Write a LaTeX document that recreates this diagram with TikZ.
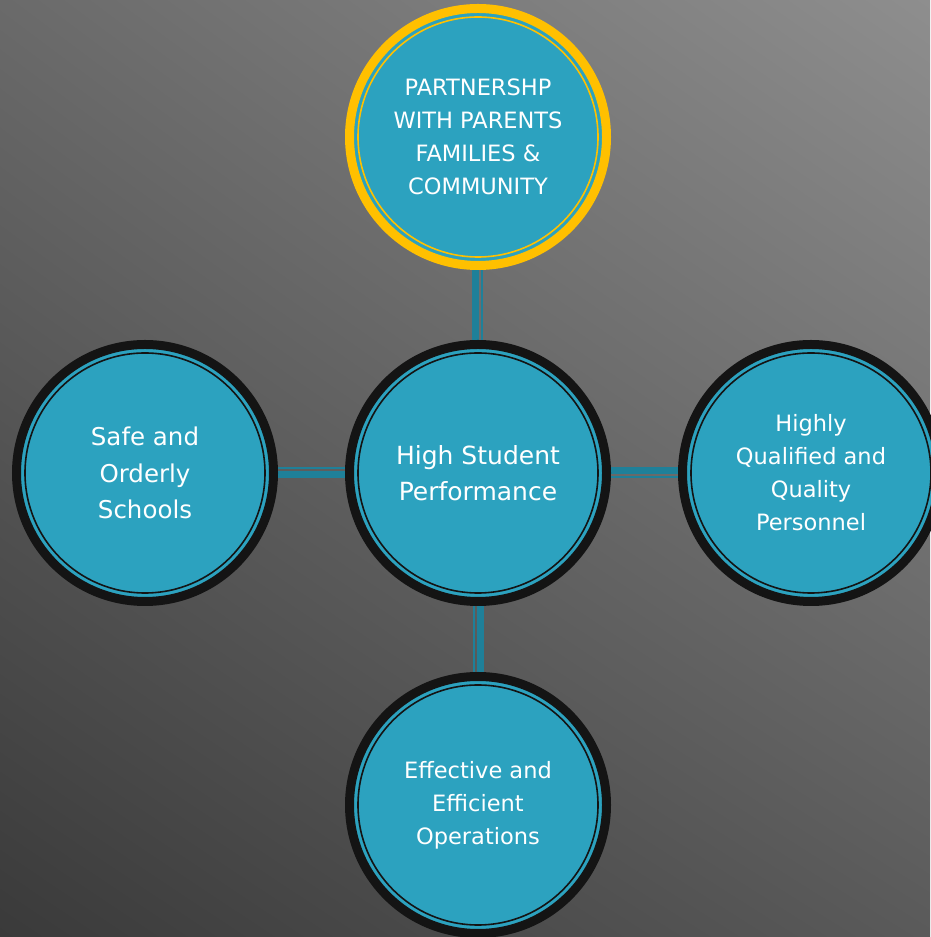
\documentclass[tikz,border=0pt]{standalone}
\usepackage{fontspec}
\setmainfont{DejaVu Sans}
\usepackage{tikz}
\usetikzlibrary{calc}
\usetikzlibrary{positioning}
\usetikzlibrary{shadings}
\usepackage{xcolor}
\definecolor{tealFill}{RGB}{44,162,191}
\definecolor{tealBar}{RGB}{31,128,153}
\definecolor{ringBlack}{RGB}{20,20,20}
\definecolor{ringGold}{RGB}{255,192,0}
\definecolor{bgUL}{RGB}{106,106,106}
\definecolor{bgUR}{RGB}{142,142,142}
\definecolor{bgLL}{RGB}{58,58,58}
\definecolor{bgLR}{RGB}{90,90,90}
\pgfdeclarelayer{background}
\pgfsetlayers{background,main}
\tikzset{
  goal/.style={
    circle, draw=#1, line width=9pt, fill=tealFill,
    minimum size=257pt, inner sep=0pt,
    text=white, align=center,
    path picture={\draw[#1, line width=1.6pt] (path picture bounding box.center) circle (120pt);}
  },
  goal/.default=ringBlack,
  bigtext/.style={font=\fontsize{25}{36}\selectfont},
  midtext/.style={font=\fontsize{24.5}{36.5}\selectfont},
  smalltext/.style={font=\fontsize{22.5}{33}\selectfont},
  thickbar/.style={tealBar, line width=7pt, shorten <=-4pt, shorten >=-4pt},
  thinbar/.style={tealBar, line width=2pt, shorten <=-4pt, shorten >=-4pt},
}
\begin{document}
\begin{tikzpicture}[x=1pt,y=1pt]
\useasboundingbox (0,0) rectangle (930,937);

%%%%%%%%%%%%%%%%%%%%%%%%%%%%%%%%%%%%%%%%%%%%%%%%%%%%%%%%%%%%%% Setup
\coordinate (C) at (478, 464);

%%%%%%%%%%%%%%%%%%%%%%%%%%%%%%%%%%%%%%%%%%%%%%%%%%%%%%%%%%%%%% Circles
\node[goal, bigtext] (hub) at (C) {High Student\\Performance};
\node[goal=ringGold, smalltext] (top) at ($(C)+(0,336)$) {PARTNERSHP\\WITH PARENTS\\FAMILIES \&\\COMMUNITY};
\node[goal, midtext] (left) at ($(C)+(-333,0)$) {Safe and\\Orderly\\Schools};
\node[goal, smalltext] (right) at ($(C)+(333,0)$) {Highly\\Qualified and\\Quality\\Personnel};
\node[goal, smalltext] (bottom) at ($(C)+(0,-332)$) {Effective and\\Efficient\\Operations};

%%%%%%%%%%%%%%%%%%%%%%%%%%%%%%%%%%%%%%%%%%%%%%%%%%%%%%%%%%%%%% Background + links
\begin{pgfonlayer}{background}
\shade[upper left=bgUL, upper right=bgUR, lower left=bgLL, lower right=bgLR]
  (0,0) rectangle (930,937);

\draw[thickbar] ([xshift=-2.5pt]top.south) -- ([xshift=-2.5pt]hub.north);
\draw[thinbar] ([xshift=4pt]top.south) -- ([xshift=4pt]hub.north);

\draw[thinbar] ([yshift=5pt]left.east) -- ([yshift=5pt]hub.west);
\draw[thickbar] ([yshift=-1.5pt]left.east) -- ([yshift=-1.5pt]hub.west);

\draw[thickbar] ([yshift=2.5pt]hub.east) -- ([yshift=2.5pt]right.west);
\draw[thinbar] ([yshift=-4pt]hub.east) -- ([yshift=-4pt]right.west);

\draw[thinbar] ([xshift=-4pt]hub.south) -- ([xshift=-4pt]bottom.north);
\draw[thickbar] ([xshift=2.5pt]hub.south) -- ([xshift=2.5pt]bottom.north);
\end{pgfonlayer}

\end{tikzpicture}
\end{document}
